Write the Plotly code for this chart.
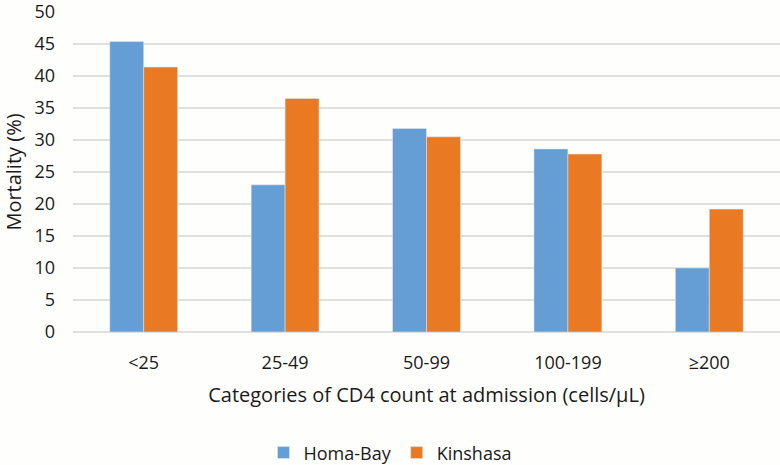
import plotly.graph_objects as go

categories = ["<25", "25-49", "50-99", "100-199", "≥200"]
homa_bay = [45.4, 23.0, 31.8, 28.6, 10.0]
kinshasa = [41.4, 36.5, 30.5, 27.8, 19.2]
y_ticks = [0, 5, 10, 15, 20, 25, 30, 35, 40, 45, 50]

fig = go.Figure()
fig.add_trace(go.Bar(x=categories, y=homa_bay, name="Homa-Bay", marker_color="#659ED4"))
fig.add_trace(go.Bar(x=categories, y=kinshasa, name="Kinshasa", marker_color="#E97922"))

font = "Open Sans, Liberation Sans, sans-serif"
fig.update_layout(
    width=780, height=465,
    margin=dict(l=73, r=0, t=12, b=133, autoexpand=False),
    paper_bgcolor="#FEFEFC", plot_bgcolor="#FEFEFC",
    barmode="group", bargap=0.52, bargroupgap=0,
    font=dict(family=font, size=18, color="#1a1a1a"),
    legend=dict(orientation="h", x=0.5, xanchor="center", xref="container",
                y=0.026, yanchor="middle", yref="container",
                font=dict(size=18), traceorder="normal", itemwidth=30),
    showlegend=True,
)
fig.update_xaxes(title=dict(text="Categories of CD4 count at admission (cells/μL)", font=dict(size=20), standoff=14),
                 showline=False, ticks="", tickfont=dict(size=18), ticklabelstandoff=18, automargin=False)
fig.update_yaxes(range=[0, 50], tickvals=y_ticks, showgrid=True, gridcolor="#E0E0E0", gridwidth=1.5,
                 zeroline=True, zerolinecolor="#E0E0E0", zerolinewidth=1.5,
                 title=dict(text="Mortality (%)", font=dict(size=20), standoff=10),
                 tickfont=dict(size=18), ticks="", showline=False, ticklabelstandoff=17,
                 ticklabeloverflow="allow", automargin=False)

fig.write_html("out.html", config={"displayModeBar": False},
               post_script="document.body.style.margin='0';")
